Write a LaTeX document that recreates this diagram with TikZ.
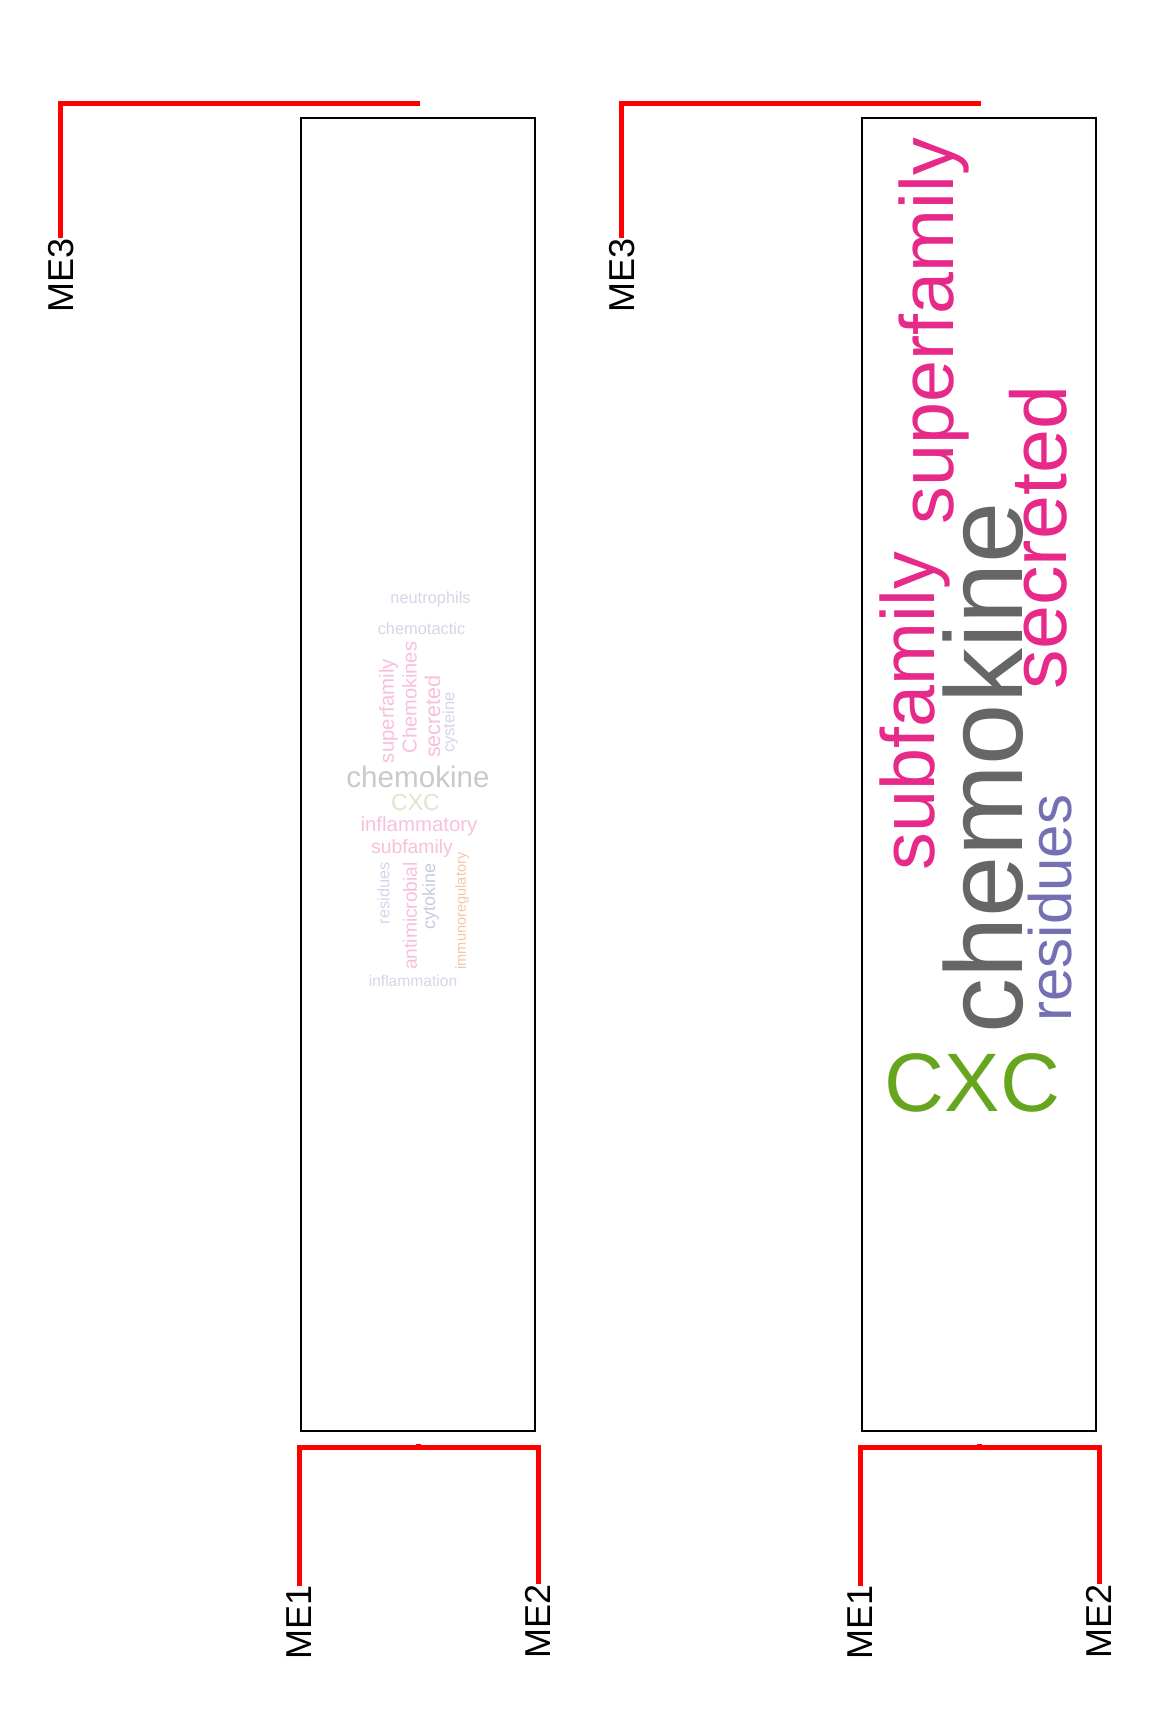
\documentclass[tikz,border=0pt]{standalone}
\usepackage{fontspec}
\setmainfont{Liberation Sans}
\definecolor{dmag}{HTML}{E7298A}
\definecolor{dpur}{HTML}{7570B3}
\definecolor{dgray}{HTML}{666666}
\definecolor{dgreen}{HTML}{66A61E}
\definecolor{dorange}{HTML}{D95F02}
\newcommand{\fsz}[1]{\fontsize{#1}{#1}\selectfont}
\tikzset{
  word/.style={inner sep=0pt, outer sep=0pt, anchor=center},
  vword/.style={word, rotate=90},
  leaflabel/.style={inner sep=0pt, outer sep=0pt, rotate=90, font=\fsz{18}, text=black},
  redline/.style={draw=red, line width=2.35pt, line join=miter},
  panel/.style={draw=black, line width=1.1pt, inner sep=0pt, minimum width=234.3*0.5pt, minimum height=1313*0.5pt}
}
\begin{document}
\begin{tikzpicture}[x=0.5pt,y=-0.5pt]
\useasboundingbox (0,0) rectangle (1152,1728);
% ---------- left panel ----------
\node[panel] (boxL) at (417.85,774.5) {};
\node[leaflabel] (me3L) at (60.8,275) {ME3};
\coordinate (topL) at (420,103.3);
\draw[redline] (me3L.east) |- (topL);
\node[leaflabel] (me1L) at (299.5,1622.5) {ME1};
\node[leaflabel] (me2L) at (538.3,1621) {ME2};
\coordinate (joinL) at (418.5,1447.5);
\draw[redline] (me1L.east) |- (joinL) -| (me2L.east);
\draw[redline] (joinL) -- ++(0,-4);
% word cloud (faded)
\node[word, font=\fsz{8.2}, text=dpur!30] (l1) at (430.5,599) {neutrophils};
\node[word, font=\fsz{8.2}, text=dpur!30] (l2) at (421.5,628.5) {chemotactic};
\node[vword, font=\fsz{10.2}, text=dmag!30] (l3) at (388.5,711) {superfamily};
\node[vword, font=\fsz{10}, text=dmag!30] (l4) at (409.5,697.5) {Chemokines};
\node[vword, font=\fsz{10.8}, text=dmag!30] (l5) at (432.5,716.5) {secreted};
\node[vword, font=\fsz{8.3}, text=dpur!30] (l6) at (450,722.5) {cysteine};
\node[word, font=\fsz{14.8}, text=dgray!35] (l7) at (418,777) {chemokine};
\node[word, font=\fsz{11.6}, text=dgreen!25] (l8) at (415.5,803) {CXC};
\node[word, font=\fsz{10.2}, text=dmag!30] (l9) at (419,826) {inflammatory};
\node[word, font=\fsz{9.65}, text=dmag!30] (l10) at (412,849) {subfamily};
\node[vword, font=\fsz{8.2}, text=dpur!30] (l11) at (383.5,893) {residues};
\node[vword, font=\fsz{9.6}, text=dmag!30] (l12) at (410,916) {antimicrobial};
\node[vword, font=\fsz{9}, text=dpur!38] (l13) at (430.5,896) {cytokine};
\node[vword, font=\fsz{7.3}, text=dorange!35] (l14) at (462,911) {immunoregulatory};
\node[word, font=\fsz{7.8}, text=dpur!30] (l15) at (413,980.5) {inflammation};
% ---------- right panel ----------
\node[panel] (boxR) at (978.85,774.5) {};
\node[leaflabel] (me3R) at (621.7,275) {ME3};
\coordinate (topR) at (981,103.3);
\draw[redline] (me3R.east) |- (topR);
\node[leaflabel] (me1R) at (860.5,1622.5) {ME1};
\node[leaflabel] (me2R) at (1099.3,1621) {ME2};
\coordinate (joinR) at (979.5,1447.5);
\draw[redline] (me1R.east) |- (joinR) -| (me2R.east);
\draw[redline] (joinR) -- ++(0,-4);
% word cloud
\node[vword, font=\fsz{37.75}, text=dmag] (r1) at (934,331) {superfamily};
\node[vword, font=\fsz{37.75}, text=dmag] (r2) at (915,711) {subfamily};
\node[vword, font=\fsz{55}, text=dgray] (r3) at (983,768) {chemokine};
\node[vword, font=\fsz{39.5}, text=dmag] (r4) at (1038,537.5) {secreted};
\node[vword, font=\fsz{30}, text=dpur] (r5) at (1050.5,908) {residues};
\node[word, font=\fsz{41.5}, text=dgreen] (r6) at (972.5,1082.5) {CXC};
\end{tikzpicture}
\end{document}
